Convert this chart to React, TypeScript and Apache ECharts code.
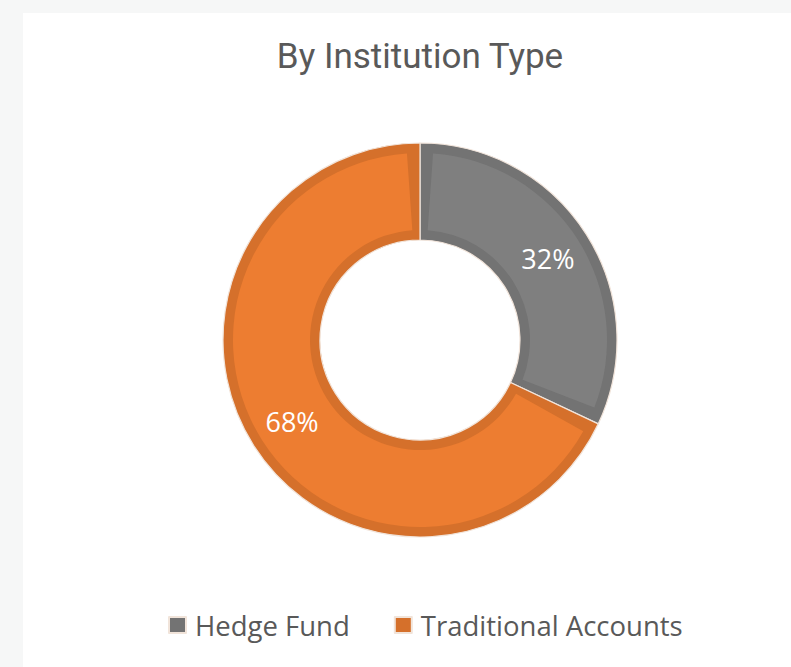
import React, { useEffect, useRef } from "react";
import * as echarts from "echarts";

const categories = ["Hedge Fund", "Traditional Accounts"];
const values = [32, 68];
const fillColors = ["#7f7f7f", "#ed7d31"];
const edgeColors = ["#737373", "#d5702b"];
const titleText = "By Institution Type";

export default function App() {
  const ref = useRef<HTMLDivElement>(null);
  useEffect(() => {
    document.body.style.margin = "0";
    const chart = echarts.init(ref.current!, null, { renderer: "svg" });
    const baseData = categories.map((name, i) => ({
      name,
      value: values[i],
      itemStyle: { color: edgeColors[i] },
    }));
    const topData = categories.map((name, i) => ({
      name,
      value: values[i],
      itemStyle: { color: fillColors[i] },
    }));
    chart.setOption({
      animation: false,
      backgroundColor: "#f6f7f7",
      graphic: [
        {
          type: "rect",
          shape: { x: 23, y: 13, width: 800, height: 700 },
          style: { fill: "#ffffff" },
          z: -10,
          silent: true,
        },
        {
          type: "text",
          x: 420,
          y: 56,
          style: {
            text: titleText,
            fill: "#595959",
            font: "35px Roboto",
            textAlign: "center",
            textVerticalAlign: "middle",
          },
        },
      ],
      legend: {
        data: categories,
        left: 168,
        top: 611,
        padding: 0,
        icon: "rect",
        itemWidth: 17,
        itemHeight: 16,
        itemGap: 44,
        textStyle: {
          color: "#595959",
          fontSize: 27.5,
          fontFamily: "Open Sans",
          padding: [0, 0, 0, 4],
        },
      },
      series: [
        {
          type: "pie",
          center: [420, 340],
          radius: [100, 197],
          startAngle: 90,
          clockwise: true,
          silent: true,
          label: { show: false },
          labelLine: { show: false },
          itemStyle: { borderColor: "#f1e4da", borderWidth: 1.2 },
          data: baseData,
        },
        {
          type: "pie",
          center: [420, 340],
          radius: [110, 187],
          startAngle: 90,
          clockwise: true,
          padAngle: 8,
          silent: true,
          label: {
            show: true,
            position: "inside",
            color: "#ffffff",
            fontSize: 27,
            fontFamily: "Open Sans",
            formatter: (p: any) => Math.round(p.percent) + "%",
          },
          labelLine: { show: false },
          data: topData,
        },
      ],
    });
    return () => chart.dispose();
  }, []);
  return <div ref={ref} style={{ width: 791, height: 667 }} />;
}
